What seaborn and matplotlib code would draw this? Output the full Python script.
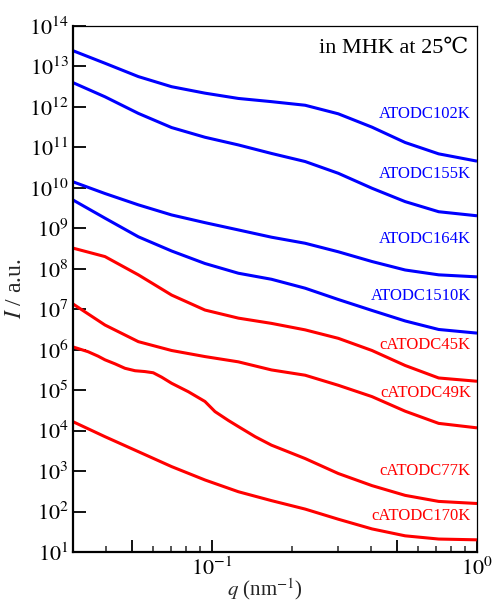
import numpy as np
import pandas as pd
import matplotlib
matplotlib.use("Agg")
import matplotlib.pyplot as plt
import seaborn as sns
from matplotlib.ticker import FixedLocator, NullFormatter

# ---------------- data ----------------
q_common = [0.030, 0.0396, 0.0529, 0.0706, 0.0943, 0.126, 0.168, 0.225,
            0.300, 0.402, 0.536, 0.717, 1.0]

I_ATODC102K = [2.45e13, 1.20e13, 5.62e12, 3.16e12, 2.19e12, 1.62e12, 1.35e12,
               1.10e12, 6.76e11, 3.16e11, 1.32e11, 6.92e10, 4.57e10]
I_ATODC155K = [3.98e12, 1.78e12, 6.92e11, 3.09e11, 1.78e11, 1.15e11, 7.08e10,
               4.47e10, 2.29e10, 9.77e9, 4.57e9, 2.57e9, 2.04e9]
I_ATODC164K = [1.41e10, 7.24e9, 3.80e9, 2.14e9, 1.38e9, 9.12e8, 6.03e8,
               4.27e8, 2.63e8, 1.51e8, 9.33e7, 7.08e7, 6.31e7]
I_ATODC1510K = [5.01e9, 1.78e9, 6.17e8, 2.75e8, 1.35e8, 7.76e7, 5.50e7,
                3.31e7, 1.74e7, 9.33e6, 5.13e6, 3.16e6, 2.57e6]
I_cATODC45K = [3.24e8, 2.00e8, 7.08e7, 2.24e7, 9.55e6, 6.03e6, 4.47e6,
               3.09e6, 1.91e6, 9.55e5, 4.07e5, 2.00e5, 1.66e5]
I_cATODC49K = [1.35e7, 4.07e6, 1.58e6, 9.55e5, 6.76e5, 5.01e5, 3.16e5,
               2.34e5, 1.32e5, 6.92e4, 3.02e4, 1.51e4, 1.17e4]
I_cATODC170K = [1.66e4, 7.08e3, 3.02e3, 1.29e3, 6.03e2, 3.09e2, 1.86e2,
                1.15e2, 6.46e1, 3.72e1, 2.51e1, 2.09e1, 2.00e1]

q_cATODC77K = [0.030, 0.0342, 0.0373, 0.0396, 0.0432, 0.0471, 0.0514, 0.056,
               0.0602, 0.0648, 0.0706, 0.0817, 0.0943, 0.1029, 0.1156, 0.126,
               0.1458, 0.168, 0.225, 0.300, 0.402, 0.536, 0.717, 1.0]
I_cATODC77K = [1.17e6, 8.91e5, 6.92e5, 5.62e5, 4.47e5, 3.47e5, 3.02e5, 2.88e5,
               2.69e5, 2.09e5, 1.48e5, 9.12e4, 5.25e4, 2.95e4, 1.78e4, 1.26e4,
               7.08e3, 4.37e3, 2.04e3, 8.71e2, 4.37e2, 2.51e2, 1.78e2, 1.58e2]

samples = ["ATODC102K", "ATODC155K", "ATODC164K", "ATODC1510K",
           "cATODC45K", "cATODC49K", "cATODC77K", "cATODC170K"]
sample_colors = ["#0000ff"] * 4 + ["#ff0000"] * 4

series = {
    "ATODC102K": (q_common, I_ATODC102K),
    "ATODC155K": (q_common, I_ATODC155K),
    "ATODC164K": (q_common, I_ATODC164K),
    "ATODC1510K": (q_common, I_ATODC1510K),
    "cATODC45K": (q_common, I_cATODC45K),
    "cATODC49K": (q_common, I_cATODC49K),
    "cATODC77K": (q_cATODC77K, I_cATODC77K),
    "cATODC170K": (q_common, I_cATODC170K),
}

rows = []
for name in samples:
    qs, Is = series[name]
    for qv, iv in zip(qs, Is):
        rows.append({"sample": name, "q": qv, "I": iv})
df = pd.DataFrame(rows)

# label positions (axes fraction)
label_y = [0.833, 0.719, 0.595, 0.487, 0.394, 0.302, 0.154, 0.068]

# ---------------- style ----------------
sns.set_theme(style="ticks")
plt.rcParams["font.family"] = ["Liberation Serif", "DejaVu Serif"]
plt.rcParams["mathtext.fontset"] = "stix"

fig = plt.figure(figsize=(4.99, 6.02), dpi=100)
ax = fig.add_axes([73 / 499, 1 - 552 / 602, (477 - 73) / 499, (552 - 26) / 602])

sns.lineplot(data=df, x="q", y="I", hue="sample", units="sample",
             palette=dict(zip(samples, sample_colors)), estimator=None,
             sort=False, legend=False, linewidth=2.2, ax=ax)
for ln in ax.get_lines():
    ln.set_solid_joinstyle("round")
    ln.set_solid_capstyle("butt")

ax.set_xscale("log")
ax.set_yscale("log")
ax.set_xlim(0.03, 1.0)
ax.set_ylim(1e1, 1e14)

# y ticks
yt = [10.0 ** k for k in range(1, 15)]
ax.yaxis.set_major_locator(FixedLocator(yt))
ax.set_yticklabels([r"$10^{%d}$" % k for k in range(1, 15)])
ax.yaxis.set_minor_locator(FixedLocator([]))

# x ticks
ax.xaxis.set_major_locator(FixedLocator([0.05, 0.1, 0.5, 1.0]))
ax.set_xticklabels(["", r"$10^{-1}$", "", r"$10^{0}$"])
minors = [0.04, 0.06, 0.07, 0.08, 0.09, 0.2, 0.3, 0.4, 0.6, 0.7, 0.8, 0.9]
ax.xaxis.set_minor_locator(FixedLocator(minors))
ax.xaxis.set_minor_formatter(NullFormatter())

ax.tick_params(axis="both", which="major", direction="in", length=9, width=1.3,
               labelsize=16, colors="black")
ax.tick_params(axis="y", which="major", pad=3)
ax.tick_params(axis="x", which="major", pad=4)
ax.tick_params(axis="x", which="minor", direction="in", length=4.5, width=1.1)
ax.tick_params(top=False, right=False, which="both")

for side in ["left", "bottom"]:
    ax.spines[side].set_linewidth(1.6)
for side in ["top", "right"]:
    ax.spines[side].set_linewidth(0.9)
for s in ax.spines.values():
    s.set_color("black")

ax.set_xlabel(r"$q$ (nm$^{-1}$)", fontsize=15)
ax.xaxis.set_label_coords(0.475, -0.047)
ax.set_ylabel(r"$I$ / a.u.", fontsize=17, labelpad=2)

ax.text(0.978, 0.958, "in MHK at 25\u2103", transform=ax.transAxes,
        ha="right", va="center", fontsize=16, color="black")

for name, yy, col in zip(samples, label_y, sample_colors):
    ax.text(0.985, yy, name, transform=ax.transAxes, ha="right", va="center",
            fontsize=12, color=col)

fig.savefig("out.png", dpi=100)
